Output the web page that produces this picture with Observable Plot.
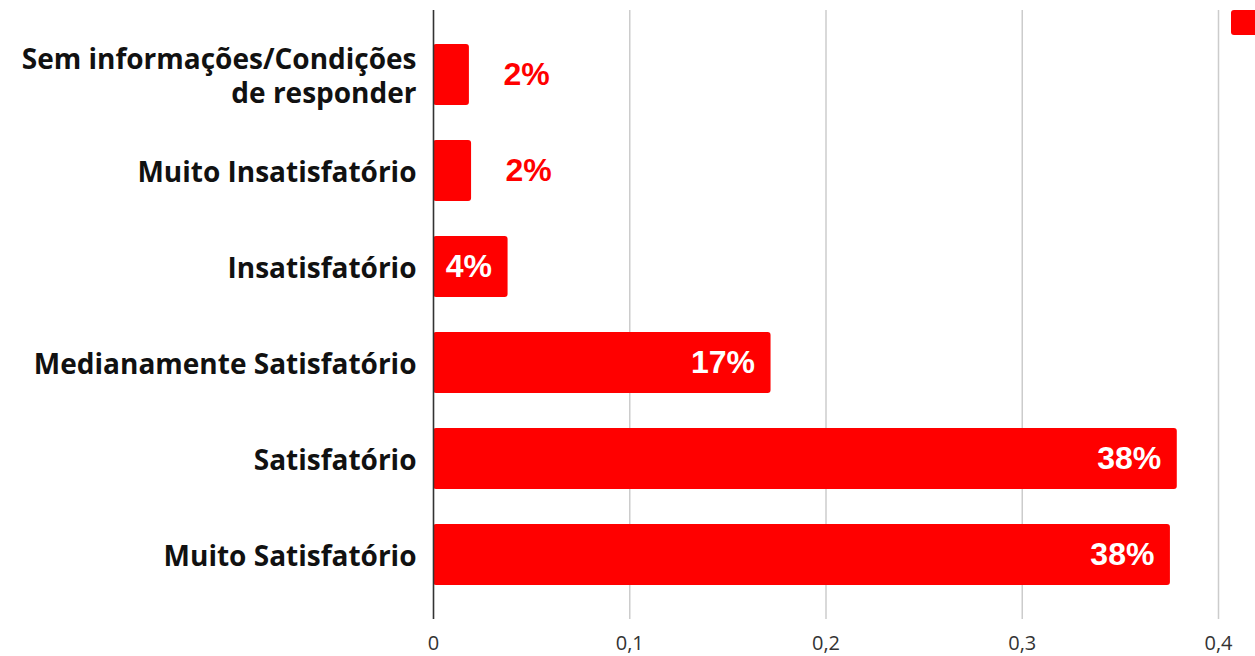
<!DOCTYPE html>
<html>
<head>
<meta charset="utf-8">
<script src="https://cdn.jsdelivr.net/npm/d3@7"></script>
<script src="https://cdn.jsdelivr.net/npm/@observablehq/plot@0.6"></script>
<style>
  html, body { margin: 0; padding: 0; background: #fff; overflow: hidden; }
  #wrap { position: relative; width: 1255px; height: 656px; }
  #legend { position: absolute; left: 1231px; top: 10px; width: 30px; height: 25px; background: #ff0000; border-radius: 3px; }
</style>
</head>
<body>
<div id="wrap"><div id="legend"></div></div>
<script>
const categories = [
  "Sem informações/Condições\nde responder",
  "Muito Insatisfatório",
  "Insatisfatório",
  "Medianamente Satisfatório",
  "Satisfatório",
  "Muito Satisfatório"
];
const values = [0.0183, 0.0194, 0.038, 0.172, 0.379, 0.3755];
const valueLabels = ["2%", "2%", "4%", "17%", "38%", "38%"];
const xTicks = [0, 0.1, 0.2, 0.3, 0.4];

const data = categories.map((c, i) => ({cat: c, value: values[i], label: valueLabels[i]}));
const outside = data.filter(d => d.value < 0.03);
const inside = data.filter(d => d.value >= 0.03);

const chart = Plot.plot({
  width: 1255,
  height: 656,
  marginLeft: 433,
  marginRight: 37,
  marginTop: 10,
  marginBottom: 37,
  style: {fontFamily: "'Open Sans', sans-serif", background: "#fff"},
  x: {domain: [0, 0.4]},
  y: {domain: categories, paddingInner: 0.36, paddingOuter: 0.34},
  marks: [
    Plot.gridX(xTicks, {stroke: "#cccccc", strokeOpacity: 1, strokeWidth: 1.5}),
    Plot.axisX(xTicks, {tickSize: 0, tickPadding: 16, fontSize: 20, fill: "#333", tickFormat: d => String(d).replace(".", ","), label: null}),
    Plot.axisY({tickSize: 0, tickPadding: 17, fontSize: 28, fontWeight: "bold", fill: "#111", label: null, lineHeight: 1.2}),
    Plot.barX(data, {x: "value", y: "cat", fill: "#ff0000", rx: 3}),
    Plot.ruleX([0], {stroke: "#333", strokeWidth: 1.5}),
    Plot.text(inside, {x: "value", y: "cat", text: "label", textAnchor: "end", dx: -16, fill: "#fff", fontSize: 32, fontWeight: "bold", fontFamily: "'Liberation Sans', Arial, sans-serif"}),
    Plot.text(outside, {x: "value", y: "cat", text: "label", textAnchor: "start", dx: 34, fill: "#ff0000", fontSize: 32, fontWeight: "bold", fontFamily: "'Liberation Sans', Arial, sans-serif"})
  ]
});
document.getElementById("wrap").prepend(chart);
</script>
</body>
</html>
